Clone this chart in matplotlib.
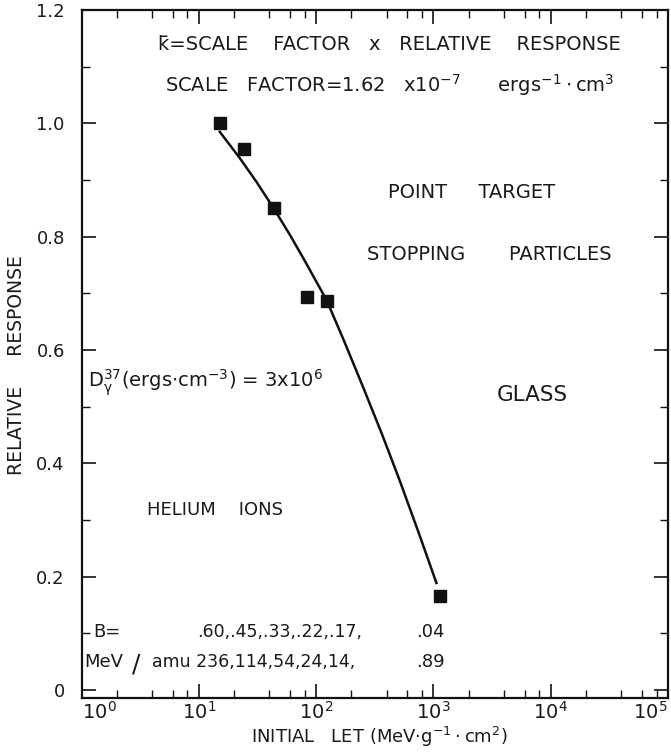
import matplotlib
matplotlib.use("Agg")
import matplotlib.pyplot as plt
import numpy as np

plt.rcParams['font.family'] = ['DejaVu Sans']
plt.rcParams['mathtext.default'] = 'regular'

# measured points: initial LET vs relative response
let_pts = [15.1, 24.2, 43.5, 83.0, 123.0, 1146.0]
resp_pts = [1.00, 0.955, 0.850, 0.693, 0.687, 0.166]

# hand-drawn fit curve through the points
curve_let = [15.1, 22.3, 31.2, 43.5, 59.5, 79.8, 99.0, 122.9,
             174.8, 248.8, 360.6, 513.5, 760.0, 1061.0]
curve_resp = [0.985, 0.939, 0.896, 0.850, 0.804, 0.758, 0.723, 0.688,
              0.614, 0.537, 0.454, 0.371, 0.274, 0.189]

# beta and energy per ion at each point
beta = [0.60, 0.45, 0.33, 0.22, 0.17, 0.04]
mev_amu = [236, 114, 54, 24, 14, 0.89]

yticks = [0, 0.2, 0.4, 0.6, 0.8, 1.0, 1.2]
ytick_labels = ['0', '0.2', '0.4', '0.6', '0.8', '1.0', '1.2']
xdecades = [0, 1, 2, 3, 4, 5]

W, H = 671, 752
fig = plt.figure(figsize=(W / 100, H / 100), dpi=100)
ax = fig.add_axes([81.5 / W, 1 - 698 / H, (668 - 81.5) / W, (698 - 10) / H])

ax.plot(curve_let, curve_resp, color='#111111', lw=1.8, zorder=2)
ax.plot(let_pts, resp_pts, ls='none', marker='s', ms=8, color='#111111', zorder=3)

ax.set_xscale('log')
ax.set_xlim(1, 1e5)
ax.set_ylim(-0.014, 1.2)

ax.set_xticks([10.0 ** d for d in xdecades])
xlabels = ax.set_xticklabels([r'$10^{%d}$' % d for d in xdecades], fontsize=14)
xlabels[0].set_ha('left')
xlabels[-1].set_ha('right')
minor_x = [m * 10.0 ** d for d in xdecades[:-1] for m in (2, 4, 6, 8)]
ax.set_xticks(minor_x, minor=True)
ax.set_xticklabels([], minor=True)

ax.set_yticks(yticks)
ax.set_yticklabels(ytick_labels, fontsize=13)
ax.set_yticks(np.arange(0.1, 1.2, 0.2), minor=True)

ax.tick_params(axis='both', which='major', direction='in', length=10, width=1.2,
               top=True, right=True, color='#111111', labelcolor='#1a1a1a')
ax.tick_params(axis='both', which='minor', direction='in', length=6, width=1.0,
               top=True, right=True, color='#111111')
ax.tick_params(axis='y', which='major', pad=12)
ax.tick_params(axis='x', which='major', pad=2)
for s in ax.spines.values():
    s.set_linewidth(1.6)
    s.set_color('#111111')

ax.set_ylabel('RELATIVE     RESPONSE', fontsize=13.5, color='#1a1a1a', va='center')
ax.yaxis.set_label_coords((17 - 81.5) / 586.5, (698 - 365) / 688)
ax.set_xlabel(r'INITIAL   LET (MeV$\cdot$g$^{-1}\cdot$cm$^{2}$)', fontsize=13,
              color='#1a1a1a', va='center')
ax.xaxis.set_label_coords((379 - 81.5) / 586.5, (698 - 737) / 688)


def txt(px, py, s, size=14, **kw):
    fig.text(px / W, 1 - py / H, s, fontsize=size, color='#1a1a1a',
             ha=kw.pop('ha', 'left'), va='center', **kw)


txt(158, 45, 'k\u0304=SCALE    FACTOR   x   RELATIVE    RESPONSE')
txt(165, 85, r'SCALE   FACTOR=1.62   x10$^{-7}$      ergs$^{-1}\cdot$cm$^{3}$')
txt(388, 192, 'POINT     TARGET')
txt(367, 254, 'STOPPING       PARTICLES')
txt(497, 395, 'GLASS', size=15.5)
txt(88, 383, r'D$_{\gamma}^{37}$(ergs$\cdot$cm$^{-3}$) = 3x10$^{6}$')
txt(147, 510, 'HELIUM    IONS', size=13)

beta_txt = ['.%02d,' % round(b * 100) for b in beta[:-1]]
mev_txt = ['%d,' % e for e in mev_amu[:-1]]
txt(93, 632, 'B=', size=13)
txt(197, 632, ''.join(beta_txt), size=12.5)
txt(416, 632, '.%02d' % round(beta[-1] * 100), size=13)
txt(84, 662, 'MeV', size=13)
txt(132, 664, '/', size=18)
txt(152, 662, 'amu ' + ''.join(mev_txt), size=12.5)
txt(416, 662, '.%02d' % round(mev_amu[-1] * 100), size=13)

fig.savefig('out.png', dpi=100)
